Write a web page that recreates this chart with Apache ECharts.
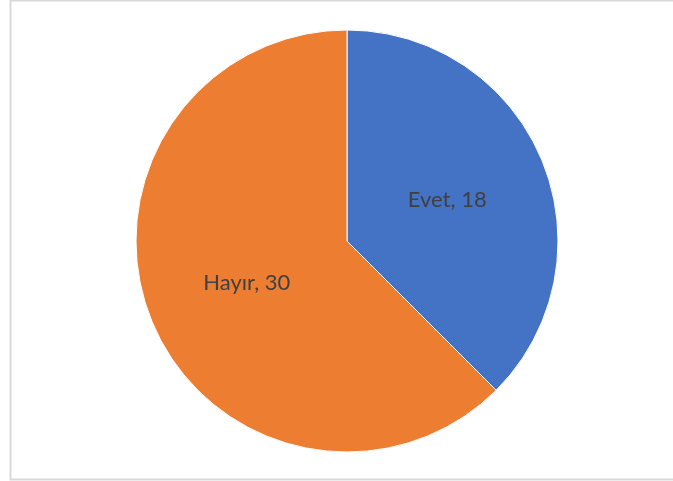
<!DOCTYPE html>
<html>
<head>
<meta charset="utf-8">
<script src="https://cdn.jsdelivr.net/npm/echarts@6/dist/echarts.min.js"></script>
<style>
  html, body { margin: 0; padding: 0; background: #fff; }
  #chart { width: 673px; height: 481px; }
</style>
</head>
<body>
<div id="chart"></div>
<script>
const categories = ['Evet', 'Hayır'];
const values = [18, 30];
const colors = ['#4472C4', '#ED7D31'];

const myChart = echarts.init(document.getElementById('chart'));

const option = {
    animation: false,
    graphic: [
        {
            type: 'rect',
            shape: { x: 10.5, y: 0.5, width: 700, height: 479 },
            style: { fill: 'none', stroke: '#d9d9d9', lineWidth: 2 }
        }
    ],
    series: [
        {
            type: 'pie',
            center: [347, 241],
            radius: 211,
            startAngle: 90,
            clockwise: true,
            label: {
                position: 'inside',
                formatter: '{b}, {c}',
                color: '#404040',
                fontSize: 22,
                fontFamily: 'Lato'
            },
            labelLine: { show: false },
            itemStyle: { borderColor: '#fff', borderWidth: 1 },
            data: categories.map((c, i) => ({
                name: c,
                value: values[i],
                itemStyle: { color: colors[i] }
            }))
        }
    ]
};
myChart.setOption(option);
</script>
</body>
</html>
